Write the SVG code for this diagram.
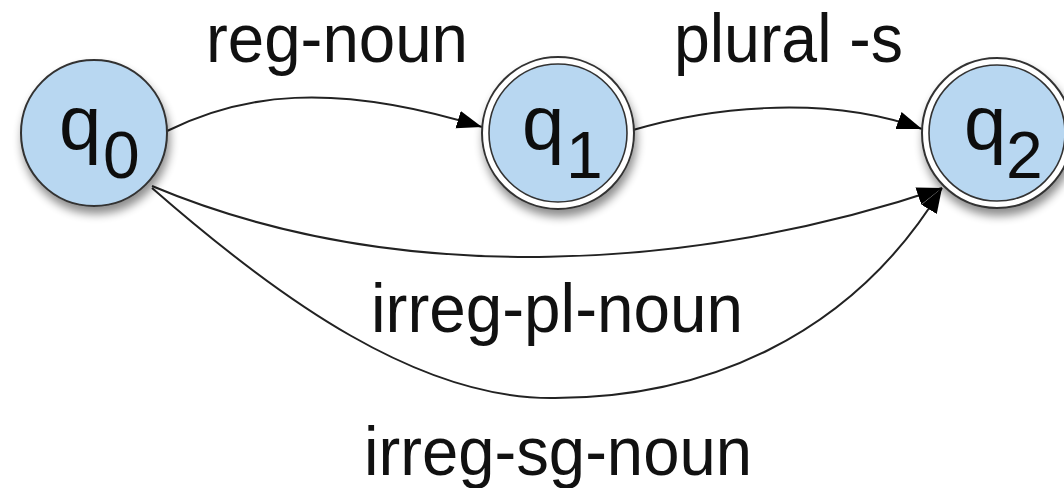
<svg xmlns="http://www.w3.org/2000/svg" width="1064" height="488" viewBox="0 0 1064 488">
  <defs>
    <filter id="shadow" x="-30%" y="-30%" width="160%" height="170%">
      <feGaussianBlur in="SourceAlpha" stdDeviation="5"/>
      <feOffset dx="2" dy="7" result="blur"/>
      <feComponentTransfer><feFuncA type="linear" slope="0.45"/></feComponentTransfer>
      <feMerge><feMergeNode/><feMergeNode in="SourceGraphic"/></feMerge>
    </filter>
    <marker id="arrow" markerUnits="userSpaceOnUse" markerWidth="26" markerHeight="20" refX="25" refY="10" orient="auto">
      <path d="M0,1 L25,10 L0,19 Z" fill="#000"/>
    </marker>
    <style>
      .state { fill: #b8d7f1; stroke: #333; stroke-width: 2; }
      .ring { fill: #fff; stroke: #333; stroke-width: 2; }
      .inner { fill: #b8d7f1; stroke: #333; stroke-width: 1.6; }
      .name { font-family: "Liberation Sans", Arial, sans-serif; font-size: 76px; fill: #111; }
      .sub { font-family: "Liberation Sans", Arial, sans-serif; font-size: 66px; fill: #111; }
      .label { font-family: "Liberation Sans", Arial, sans-serif; font-size: 68px; fill: #111; }
      .edge { fill: none; stroke: #222; stroke-width: 2; marker-end: url(#arrow); }
    </style>
  </defs>

  <rect width="1064" height="488" fill="#fff"/>

  <!-- transitions -->
  <g id="connectors">
    <path class="edge" d="M167,131 C240,95 330,80 482,127"/>
    <path class="edge" d="M633,130 C700,110 820,92 922,129"/>
    <path class="edge" d="M152,186 C400,290 700,270 942,188"/>
    <path class="edge" d="M152,188 C280,300 420,400 555,398 C700,398 850,340 942,188"/>
  </g>

  <!-- edge labels -->
  <g id="labels">
    <text class="label" x="206" y="62" textLength="262" lengthAdjust="spacingAndGlyphs">reg-noun</text>
    <text class="label" x="674" y="62" textLength="229" lengthAdjust="spacingAndGlyphs">plural -s</text>
    <text class="label" x="371" y="332" textLength="372" lengthAdjust="spacingAndGlyphs">irreg-pl-noun</text>
    <text class="label" x="364" y="475" textLength="388" lengthAdjust="spacingAndGlyphs">irreg-sg-noun</text>
  </g>

  <!-- start state -->
  <g id="q0" filter="url(#shadow)">
    <circle class="state" cx="94" cy="133" r="73"/>
    <text class="name" x="59" y="149">q</text>
    <text class="sub" x="103" y="178">0</text>
  </g>

  <!-- accepting states -->
  <g id="q1" filter="url(#shadow)">
    <circle class="ring" cx="558" cy="133" r="76"/>
    <circle class="inner" cx="558" cy="133" r="69"/>
    <text class="name" x="522" y="149">q</text>
    <text class="sub" x="566" y="178">1</text>
  </g>

  <g id="q2" filter="url(#shadow)">
    <circle class="ring" cx="997" cy="133" r="75"/>
    <circle class="inner" cx="997" cy="133" r="68"/>
    <text class="name" x="964" y="149">q</text>
    <text class="sub" x="1006" y="178">2</text>
  </g>
</svg>
